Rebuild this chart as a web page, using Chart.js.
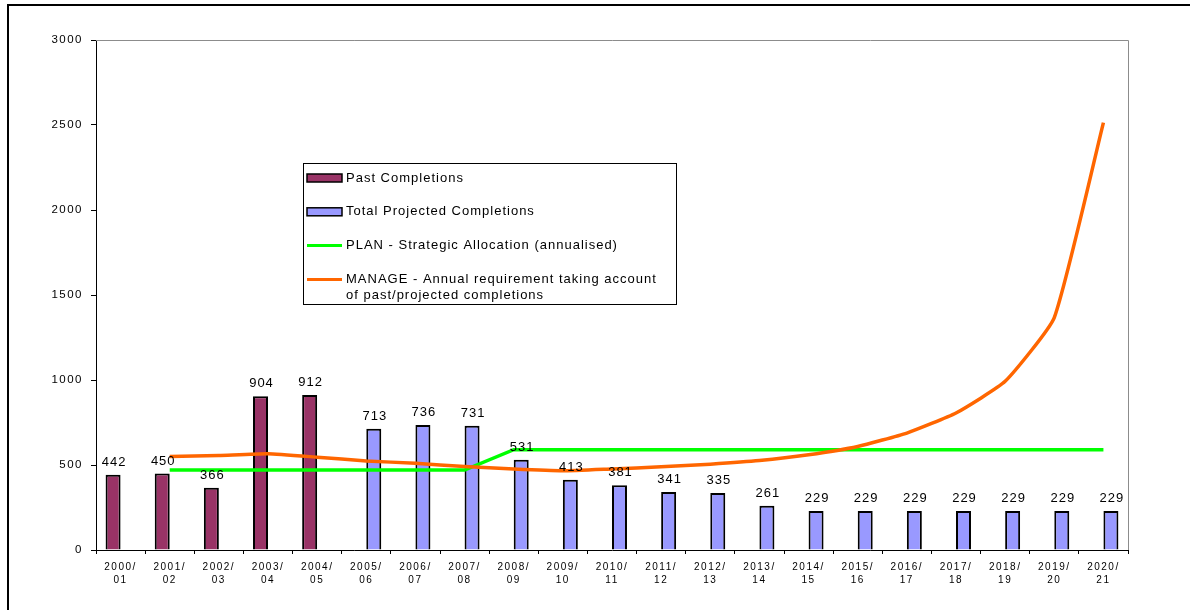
<!DOCTYPE html>
<html>
<head>
<meta charset="utf-8">
<script src="https://cdn.jsdelivr.net/npm/chart.js@4"></script>
<style>
  html, body { margin: 0; padding: 0; background: #fff; overflow: hidden; }
  #frame { position: absolute; left: 7px; top: 4px; width: 2000px; height: 2000px; border: 2px solid #000; }
  #chart { position: absolute; left: 0; top: 0; }
</style>
</head>
<body>
<div id="frame"></div>
<canvas id="chart" width="1190" height="610"></canvas>
<script>
// Housing completions vs. plan / manage requirement
const years = ['2000/01', '2001/02', '2002/03', '2003/04', '2004/05', '2005/06', '2006/07',
  '2007/08', '2008/09', '2009/10', '2010/11', '2011/12', '2012/13', '2013/14', '2014/15',
  '2015/16', '2016/17', '2017/18', '2018/19', '2019/20', '2020/21'];

const pastCompletions = [442, 450, 366, 904, 912, null, null, null, null, null, null,
  null, null, null, null, null, null, null, null, null, null];

const projectedCompletions = [null, null, null, null, null, 713, 736, 731, 531, 413, 381,
  341, 335, 261, 229, 229, 229, 229, 229, 229, 229];

const planAllocation = [null, 470, 470, 470, 470, 470, 470, 470, 590, 590, 590,
  590, 590, 590, 590, 590, 590, 590, 590, 590, 590];

const manageRequirement = [null, 550, 556, 566, 546, 524, 510, 491, 476, 466, 477,
  489, 505, 526, 560, 609, 688, 806, 992, 1367, 2514];

const yTicks = [0, 500, 1000, 1500, 2000, 2500, 3000];

const FONT = '"Liberation Sans", Arial, sans-serif';

// split "2000/01" into two lines
const xLabels = years.map(y => {
  const parts = y.split('/');
  return [parts[0] + '/', parts[1]];
});

// text spacing for everything chart.js draws
const spacingPlugin = {
  id: 'spacing',
  beforeUpdate(chart) { chart.ctx.letterSpacing = '1.5px'; },
  beforeDraw(chart) { chart.ctx.letterSpacing = '1.5px'; }
};

// grey top/right edge of the plot box
const plotBox = {
  id: 'plotBox',
  beforeDatasetsDraw(chart) {
    const { ctx, chartArea: a } = chart;
    ctx.save();
    ctx.strokeStyle = '#8c8c8c';
    ctx.lineWidth = 1;
    ctx.beginPath();
    ctx.moveTo(a.left, a.top + 0.5);
    ctx.lineTo(a.right + 0.5, a.top + 0.5);
    ctx.lineTo(a.right + 0.5, a.bottom);
    ctx.stroke();
    ctx.restore();
  }
};

// value labels above the bars
const barValues = {
  id: 'barValues',
  afterDatasetsDraw(chart) {
    const ctx = chart.ctx;
    ctx.save();
    ctx.font = '13px ' + FONT;
    ctx.letterSpacing = '1px';
    ctx.fillStyle = '#000';
    ctx.textAlign = 'center';
    ctx.textBaseline = 'alphabetic';
    chart.data.datasets.forEach((ds, i) => {
      if (ds.type !== 'bar') return;
      chart.getDatasetMeta(i).data.forEach((bar, j) => {
        if (ds.data[j] == null) return;
        ctx.fillText(String(ds.data[j]), bar.x + 1, bar.y - 9);
      });
    });
    ctx.restore();
  }
};

// boxed legend inside the plot
const boxLegend = {
  id: 'boxLegend',
  afterDraw(chart) {
    const ctx = chart.ctx;
    const bx = 303, by = 163, bw = 373, bh = 141;
    ctx.save();
    ctx.fillStyle = '#fff';
    ctx.fillRect(bx, by, bw, bh);
    ctx.strokeStyle = '#000';
    ctx.lineWidth = 1;
    ctx.strokeRect(bx + 0.5, by + 0.5, bw, bh);
    ctx.font = '13px ' + FONT;
    ctx.letterSpacing = '1px';
    ctx.textBaseline = 'middle';
    ctx.textAlign = 'left';
    chart.data.datasets.forEach((ds, i) => {
      const cy = by + 15 + i * 33.8;
      if (ds.type === 'bar') {
        ctx.fillStyle = ds.backgroundColor;
        ctx.fillRect(307, cy - 4, 35, 8);
        ctx.strokeStyle = '#000';
        ctx.lineWidth = 1.5;
        ctx.strokeRect(307, cy - 4, 35, 8);
      } else {
        ctx.strokeStyle = ds.borderColor;
        ctx.lineWidth = 3;
        ctx.beginPath();
        ctx.moveTo(307, cy);
        ctx.lineTo(342, cy);
        ctx.stroke();
      }
      ctx.fillStyle = '#000';
      ds.label.split('\n').forEach((line, k) => {
        ctx.fillText(line, 346, cy + k * 16.5);
      });
    });
    ctx.restore();
  }
};

new Chart(document.getElementById('chart'), {
  data: {
    labels: xLabels,
    datasets: [
      {
        type: 'bar',
        label: 'Past Completions',
        data: pastCompletions,
        backgroundColor: '#993366',
        borderColor: '#000',
        borderWidth: 2,
        categoryPercentage: 0.61,
        barPercentage: 1,
        order: 2
      },
      {
        type: 'bar',
        label: 'Total Projected Completions',
        data: projectedCompletions,
        backgroundColor: '#9999ff',
        borderColor: '#000',
        borderWidth: 2,
        categoryPercentage: 0.61,
        barPercentage: 1,
        order: 2
      },
      {
        type: 'line',
        label: 'PLAN - Strategic Allocation (annualised)',
        data: planAllocation,
        borderColor: '#00ff00',
        borderWidth: 3.5,
        pointRadius: 0,
        tension: 0,
        order: 1
      },
      {
        type: 'line',
        label: 'MANAGE - Annual requirement taking account\nof past/projected completions',
        data: manageRequirement,
        borderColor: '#ff6600',
        borderWidth: 3.5,
        pointRadius: 0,
        tension: 0.15,
        order: 0
      }
    ]
  },
  options: {
    responsive: false,
    animation: false,
    layout: { padding: { top: 40, right: 62, left: 0, bottom: 0 } },
    plugins: {
      legend: { display: false },
      tooltip: { enabled: false }
    },
    scales: {
      x: {
        offset: true,
        grid: {
          offset: true,
          drawOnChartArea: false,
          drawTicks: true,
          tickLength: 4,
          color: '#000'
        },
        border: { color: '#000', width: 1 },
        ticks: {
          color: '#000',
          font: { family: FONT, size: 10, lineHeight: 1.25 },
          padding: 7,
          maxRotation: 0,
          autoSkip: false
        },
        afterFit(s) { s.height = 60; }
      },
      y: {
        min: 0,
        max: 3000,
        afterBuildTicks(s) { s.ticks = yTicks.map(v => ({ value: v })); },
        grid: {
          drawOnChartArea: false,
          drawTicks: true,
          tickLength: 5,
          color: '#000'
        },
        border: { color: '#000', width: 1 },
        ticks: {
          color: '#000',
          font: { family: FONT, size: 11.5 },
          padding: 8,
          callback: v => String(v)
        },
        afterFit(s) { s.width = 96; }
      }
    }
  },
  plugins: [spacingPlugin, plotBox, barValues, boxLegend]
});
</script>
</body>
</html>
